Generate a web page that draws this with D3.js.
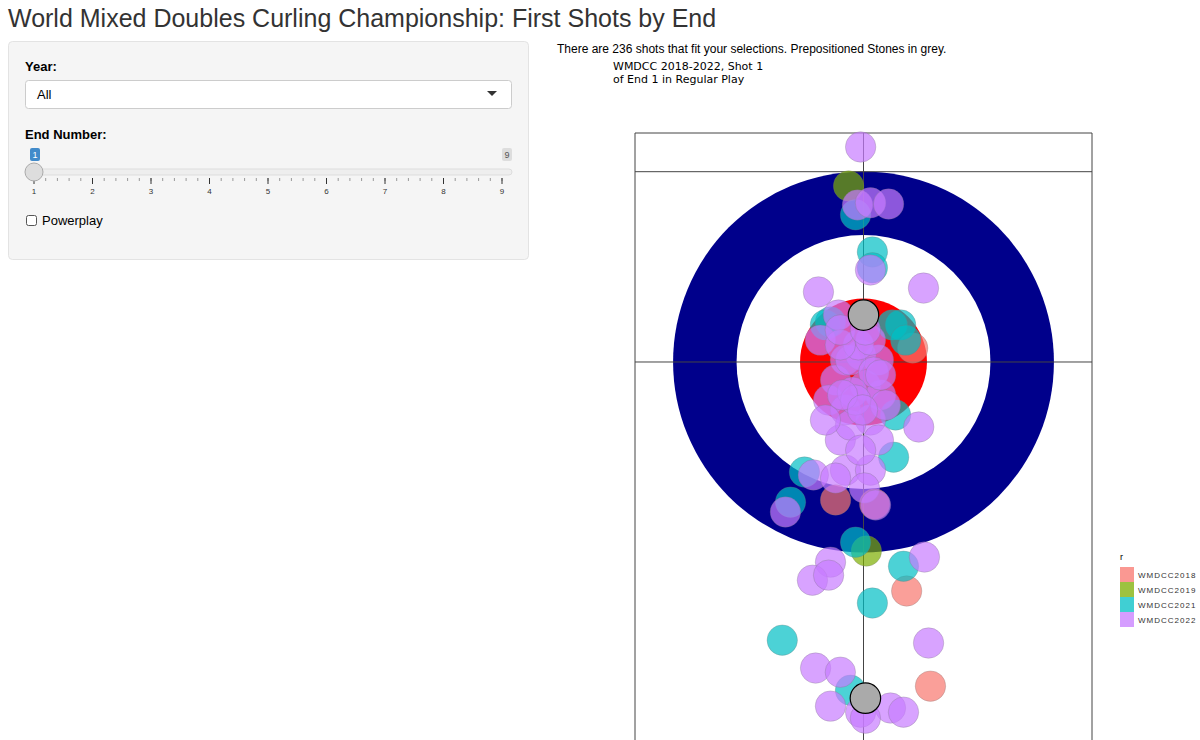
<!DOCTYPE html>
<html><head><meta charset="utf-8">
<script src="https://cdn.jsdelivr.net/npm/d3@7"></script>
<style>
body{margin:0;font-family:"Liberation Sans",Arial,sans-serif;background:#fff;color:#333;}
</style></head>
<body>
<svg id="chart" width="1200" height="740"></svg>
<script>
const years = ["WMDCC2018","WMDCC2019","WMDCC2021","WMDCC2022"];
const colors = ["#F8766D","#7CAE00","#00BFC4","#C77CFF"];
// shots: [x ft from centre line, y ft from tee line, year index]
const shots2018 = [[1.36,-7.22],[2.11,-10.22],[-0.88,-4.35],[0.35,-4.48],[1.55,0.44]];
const shots2019 = [[-0.47,5.55],[0.09,-5.96]];
const shots2021 = [[0.28,3.47],[0.28,2.97],[1.17,1.17],[0.91,1.17],[-1.04,1.26],[-1.86,-3.47],[-2.30,-4.42],
  [-0.25,-5.68],[1.26,-6.44],[0.28,-7.60],[-2.56,-8.77],[0.95,-3.00],[-0.25,4.64],[-0.41,-10.35],[1.01,-1.67],
  [-1.20,1.17],[1.33,0.69]];
const shots2022 = [[-0.09,6.78],[-0.19,4.95],[0.22,5.02],[0.79,4.98],[0.22,2.90],[1.89,2.33],[-1.42,2.21],
  [-0.79,1.48],[-1.36,0.69],[-0.57,0.06],[-0.09,0.22],[0.47,0.06],[-0.88,-0.57],[0.06,-0.73],[0.54,-1.04],
  [-1.10,-1.20],[-0.57,-1.51],[0.22,-1.83],[0.69,-1.36],[1.74,-2.05],[-0.73,-2.46],[0.47,-2.46],[-0.57,-3.41],
  [0.22,-3.41],[-1.58,-3.56],[-0.88,-3.66],[0.03,-3.97],[-2.46,-4.73],[0.38,-4.51],[-1.04,-6.31],[-1.61,-6.88],
  [-1.10,-6.72],[1.92,-6.15],[2.05,-8.86],[-1.51,-9.65],[-0.73,-9.78],[-1.04,-10.85],[-0.09,-11.04],[0.85,-10.91],
  [1.26,-11.04],[0.06,-11.23],[-0.41,0.06],[-0.16,0.54],[-0.73,0.54],[0.22,0.69],[-0.41,-1.99],[-0.09,-2.78],
  [-1.20,-1.83],[0.32,-0.32],[-0.35,-0.95],[-0.73,1.01],[0.06,1.01],[-0.25,-1.20],[0.54,-0.41],[-0.66,-1.04],[-0.03,-1.51]];
const preStones = [[0,1.48],[0.06,-10.6]];
const rings = [[6,"#00008B"],[4,"#ffffff"],[2,"#ff0000"]];
const stoneR = 0.48;
const endTicks = [1,2,3,4,5,6,7,8,9];

const svg = d3.select("#chart");
svg.append("text").attr("x",8).attr("y",27).attr("font-size",25).attr("fill","#333")
  .text("World Mixed Doubles Curling Championship: First Shots by End");

// sidebar
const side = svg.append("g");
side.append("rect").attr("x",8.5).attr("y",41.5).attr("width",520).attr("height",218).attr("rx",4)
  .attr("fill","#f5f5f5").attr("stroke","#e3e3e3");
side.append("text").attr("x",25).attr("y",71).attr("font-size",13).attr("font-weight","bold").text("Year:");
side.append("rect").attr("x",25.5).attr("y",80.5).attr("width",486).attr("height",28).attr("rx",3)
  .attr("fill","#fff").attr("stroke","#ccc");
side.append("text").attr("x",37).attr("y",99).attr("font-size",13).text("All");
side.append("path").attr("d","M487,91l10,0l-5,5z").attr("fill","#333");
side.append("text").attr("x",25).attr("y",139).attr("font-size",13).attr("font-weight","bold").text("End Number:");
const sx = d3.scaleLinear().domain([1,9]).range([34,502]);
side.append("rect").attr("x",30).attr("y",148).attr("width",10).attr("height",13).attr("rx",2).attr("fill","#428bca");
side.append("text").attr("x",35).attr("y",158).attr("font-size",9).attr("fill","#fff").attr("text-anchor","middle").text("1");
side.append("rect").attr("x",502).attr("y",148).attr("width",10).attr("height",13).attr("rx",2).attr("fill","#ddd");
side.append("text").attr("x",507).attr("y",158).attr("font-size",9).attr("fill","#555").attr("text-anchor","middle").text("9");
side.append("rect").attr("x",30).attr("y",169).attr("width",482).attr("height",6).attr("rx",3).attr("fill","#eee").attr("stroke","#ddd");
const minor = d3.range(0,41).map(i=>1+i*0.2);
side.selectAll(".mt").data(minor).join("line").attr("x1",d=>sx(d)).attr("x2",d=>sx(d))
  .attr("y1",178).attr("y2",181).attr("stroke","#999");
side.selectAll(".Mt").data(endTicks).join("line").attr("x1",d=>sx(d)).attr("x2",d=>sx(d))
  .attr("y1",178).attr("y2",184).attr("stroke","#333");
side.selectAll(".tl").data(endTicks).join("text").attr("x",d=>sx(d)).attr("y",194).attr("font-size",8)
  .attr("text-anchor","middle").attr("fill","#333").text(d=>d);
side.append("circle").attr("cx",34).attr("cy",172).attr("r",9).attr("fill","#ddd").attr("stroke","#aaa");
side.append("rect").attr("x",26.5).attr("y",215.5).attr("width",10).attr("height",10).attr("rx",2).attr("fill","#fff").attr("stroke","#555");
side.append("text").attr("x",42).attr("y",225).attr("font-size",13).text("Powerplay");

svg.append("text").attr("x",557).attr("y",53).attr("font-size",12).text("There are 236 shots that fit your selections. Prepositioned Stones in grey.");
svg.append("text").attr("x",613).attr("y",70).attr("font-size",11).attr("font-family","DejaVu Sans").attr("fill","#000").text("WMDCC 2018-2022, Shot 1");
svg.append("text").attr("x",613).attr("y",83).attr("font-size",11).attr("font-family","DejaVu Sans").attr("fill","#000").text("of End 1 in Regular Play");

// sheet
const x = d3.scaleLinear().domain([-7.2,7.2]).range([635,1092]);
const y = d3.scaleLinear().domain([7.22,-12]).range([133,742.6]);
const k = x(1)-x(0);
const g = svg.append("g");
g.selectAll(".ring").data(rings).join("circle").attr("cx",x(0)).attr("cy",y(0))
  .attr("r",d=>d[0]*k).attr("fill",d=>d[1]);
const lc = "#444";
g.append("line").attr("x1",x(-7.2)).attr("x2",x(7.2)).attr("y1",y(7.22)).attr("y2",y(7.22)).attr("stroke",lc);
g.append("line").attr("x1",x(-7.2)).attr("x2",x(7.2)).attr("y1",y(6)).attr("y2",y(6)).attr("stroke",lc);
g.append("line").attr("x1",x(-7.2)).attr("x2",x(7.2)).attr("y1",y(0)).attr("y2",y(0)).attr("stroke",lc);
g.append("line").attr("x1",x(0)).attr("x2",x(0)).attr("y1",y(7.22)).attr("y2",y(-12)).attr("stroke",lc);
[-7.2,7.2].forEach(v=>g.append("line").attr("x1",x(v)).attr("x2",x(v)).attr("y1",y(7.22)).attr("y2",y(-12)).attr("stroke",lc));

[shots2018,shots2019,shots2021,shots2022].forEach((arr,i)=>{
  g.selectAll(".s"+i).data(arr).join("circle").attr("cx",d=>x(d[0])).attr("cy",d=>y(d[1]))
    .attr("r",stoneR*k).attr("fill",colors[i]).attr("fill-opacity",0.7)
    .attr("stroke","#777").attr("stroke-opacity",0.4).attr("stroke-width",0.7);
});
g.selectAll(".pre").data(preStones).join("circle").attr("cx",d=>x(d[0])).attr("cy",d=>y(d[1]))
  .attr("r",stoneR*k).attr("fill","#aaa").attr("stroke","#000").attr("stroke-width",1.2);

// legend
const lg = svg.append("g").attr("transform","translate(1120,552)");
lg.append("text").attr("x",0).attr("y",8).attr("font-size",9).text("r");
lg.selectAll("rect").data(years).join("rect").attr("x",0).attr("y",(d,i)=>15+i*15)
  .attr("width",14).attr("height",15).attr("fill",(d,i)=>colors[i]).attr("fill-opacity",0.75);
lg.selectAll(".lt").data(years).join("text").attr("x",18).attr("y",(d,i)=>26+i*15)
  .attr("font-size",8).attr("letter-spacing",1).attr("fill","#333").text(d=>d);
</script>
</body></html>
